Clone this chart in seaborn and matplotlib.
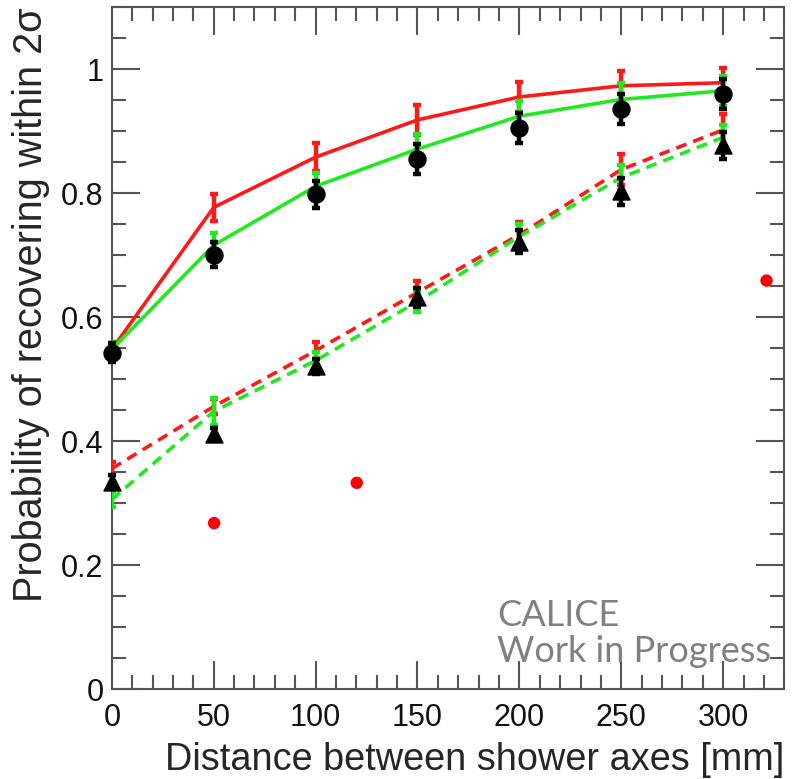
import matplotlib
matplotlib.use("Agg")
import matplotlib.pyplot as plt
from matplotlib.ticker import MultipleLocator
import seaborn as sns
import pandas as pd
import numpy as np

sns.set_style("ticks")
plt.rcParams['font.family'] = ['Liberation Sans', 'DejaVu Sans']

distance = [0, 50, 100, 150, 200, 250, 300]

red_solid = [0.548, 0.777, 0.858, 0.918, 0.955, 0.973, 0.978]
red_solid_err = [0.012, 0.022, 0.022, 0.024, 0.024, 0.024, 0.024]
green_solid = [0.548, 0.716, 0.811, 0.871, 0.924, 0.951, 0.965]
green_solid_err = [0.012, 0.020, 0.022, 0.024, 0.024, 0.026, 0.024]
black_circle = [0.543, 0.701, 0.798, 0.855, 0.905, 0.936, 0.960]
black_circle_err = [0.015, 0.020, 0.022, 0.024, 0.024, 0.024, 0.024]

red_dashed = [0.356, 0.456, 0.546, 0.640, 0.733, 0.838, 0.902]
red_dashed_err = [0.010, 0.012, 0.014, 0.018, 0.020, 0.025, 0.025]
green_dashed = [0.306, 0.448, 0.530, 0.625, 0.730, 0.825, 0.890]
green_dashed_err = [0.012, 0.022, 0.014, 0.016, 0.020, 0.020, 0.020]
black_triangle = [0.335, 0.412, 0.521, 0.632, 0.722, 0.803, 0.877]
black_triangle_err = [0.010, 0.010, 0.012, 0.015, 0.018, 0.022, 0.022]

stray_x = [50.2, 120.2, 321.3]
stray_y = [0.268, 0.333, 0.659]

RED = "#ff1a1a"
GREEN = "#22e822"

fig = plt.figure(figsize=(7.93, 7.79), dpi=100)
ax = fig.add_axes([0.141, 0.115, 0.848, 0.876])

def line_series(y, err, color, ls):
    df = pd.DataFrame({"x": distance, "y": y})
    sns.lineplot(data=df, x="x", y="y", ax=ax, color=color, lw=2.6,
                 linestyle=ls, dashes=False, zorder=3)
    ax.errorbar(distance, y, yerr=err, fmt="none", ecolor=color,
                elinewidth=3.2, capsize=3, capthick=3.2, zorder=3)

line_series(red_dashed, red_dashed_err, RED, (0, (3, 2)))
line_series(green_dashed, green_dashed_err, GREEN, (0, (3, 2)))
line_series(red_solid, red_solid_err, RED, "-")
line_series(green_solid, green_solid_err, GREEN, "-")

def marker_series(y, err, marker, size):
    eb = ax.errorbar(distance, y, yerr=err, fmt="none", ecolor="black",
                     elinewidth=3.2, capsize=3, capthick=3.2, zorder=4)
    for art in eb.lines[1] + eb.lines[2]:
        art.set_clip_on(False)
    df = pd.DataFrame({"x": distance, "y": y})
    sns.scatterplot(data=df, x="x", y="y", ax=ax, color="black",
                    marker=marker, s=size, edgecolor="black", zorder=5,
                    clip_on=False)

marker_series(black_circle, black_circle_err, "o", 150)
marker_series(black_triangle, black_triangle_err, "^", 150)

sdf = pd.DataFrame({"x": stray_x, "y": stray_y})
sns.scatterplot(data=sdf, x="x", y="y", ax=ax, color="red", s=80,
                edgecolor="none", zorder=5)

ax.set_xlim(0, 330)
ax.set_ylim(0, 1.1)
ax.xaxis.set_major_locator(MultipleLocator(50))
ax.xaxis.set_minor_locator(MultipleLocator(10))
ax.yaxis.set_major_locator(MultipleLocator(0.2))
ax.yaxis.set_minor_locator(MultipleLocator(0.05))
ax.set_xticks([0, 50, 100, 150, 200, 250, 300])
ax.set_xticklabels(["0", "50", "100", "150", "200", "250", "300"])
ax.set_yticks([0, 0.2, 0.4, 0.6, 0.8, 1.0])
ax.set_yticklabels(["0", "0.2", "0.4", "0.6", "0.8", "1"])
ax.tick_params(which="both", direction="in", top=True, right=True,
               color="#555555", labelsize=22, labelcolor="#111111")
ax.tick_params(axis="x", pad=10)
ax.tick_params(axis="y", pad=6)
ax.tick_params(which="major", length=20, width=1.5)
ax.tick_params(which="minor", length=10, width=1.5)
for s in ax.spines.values():
    s.set_color("#555555")
    s.set_linewidth(1.5)

ax.set_xlabel("Distance between shower axes [mm]", fontsize=27.3, loc="right", labelpad=6)
ax.set_ylabel("Probability of recovering within 2σ", fontsize=28.5, loc="top", labelpad=8)

ax.text(0.573, 0.040, "CALICE\nWork in Progress", transform=ax.transAxes,
        fontsize=26, color="#808080", family=["Lato", "DejaVu Sans"],
        ha="left", va="baseline", linespacing=1.12)

fig.savefig("out.png", dpi=100)
